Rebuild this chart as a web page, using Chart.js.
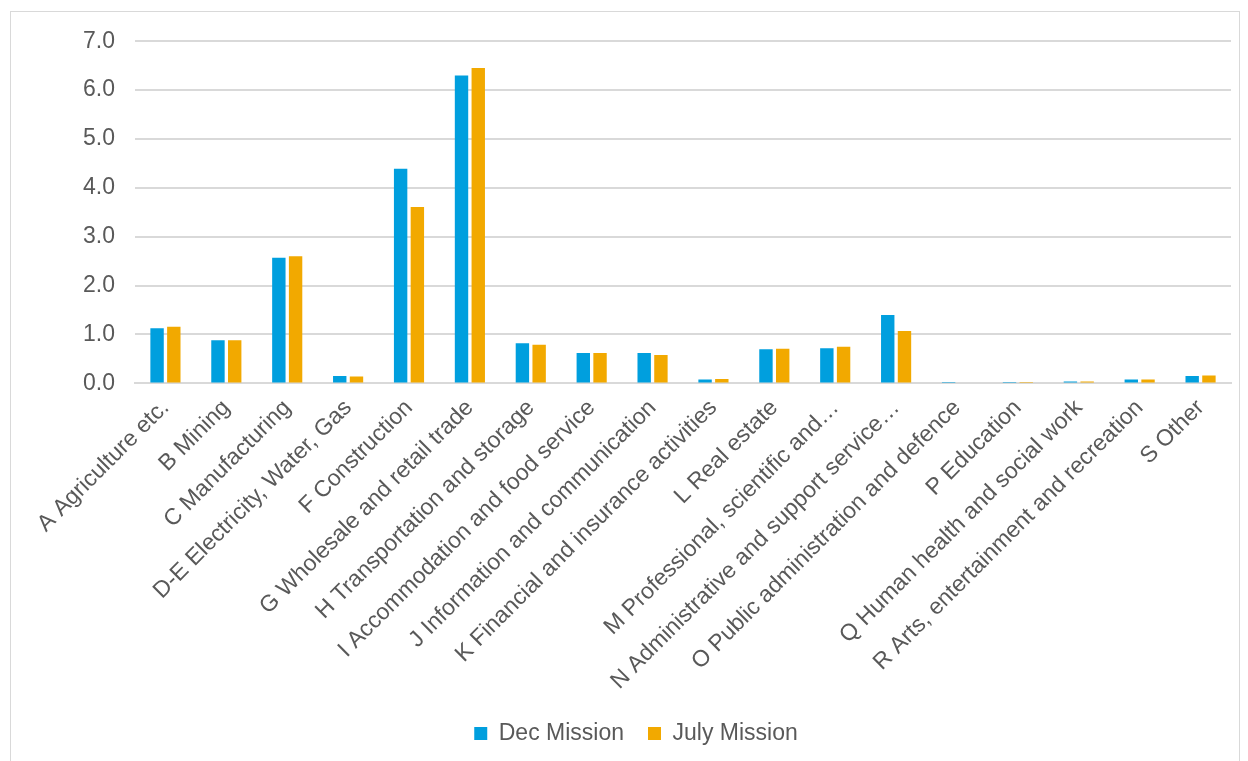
<!DOCTYPE html>
<html>
<head>
<meta charset="utf-8">
<script src="https://cdn.jsdelivr.net/npm/chart.js@4"></script>
<style>
  body { margin: 0; background: #fff; overflow: hidden; }
  #wrap {
    position: absolute; left: 10px; top: 11px;
    width: 1230px; height: 753px;
    border: 1px solid #d9d9d9; box-sizing: border-box;
  }
</style>
</head>
<body>
<div id="wrap"><canvas id="sectorChart"></canvas></div>
<script>
// Sectors
const categories = [
    'A Agriculture etc.', 'B Mining', 'C Manufacturing', 'D-E Electricity, Water, Gas',
    'F Construction', 'G Wholesale and retail trade', 'H Transportation and storage',
    'I Accommodation and food service', 'J Information and communication',
    'K Financial and insurance activities', 'L Real estate',
    'M Professional, scientific and…', 'N Administrative and support service…',
    'O Public administration and defence', 'P Education',
    'Q Human health and social work', 'R Arts, entertainment and recreation', 'S Other'
];
const decMission = [1.13, 0.88, 2.57, 0.15, 4.39, 6.30, 0.82, 0.62, 0.62, 0.08, 0.70, 0.72, 1.40, 0.01, 0.01, 0.04, 0.08, 0.15];
const julyMission = [1.16, 0.88, 2.60, 0.14, 3.61, 6.45, 0.79, 0.62, 0.58, 0.09, 0.71, 0.75, 1.07, 0.00, 0.01, 0.04, 0.08, 0.16];

const textColor = '#595959';
const fontFamily = '"Liberation Sans", Arial, sans-serif';

const ctx = document.getElementById('sectorChart').getContext('2d');
new Chart(ctx, {
    type: 'bar',
    data: {
        labels: categories,
        datasets: [{
            label: 'Dec Mission',
            data: decMission,
            backgroundColor: '#009fde',
            barPercentage: 0.8,
            categoryPercentage: 0.55
        }, {
            label: 'July Mission',
            data: julyMission,
            backgroundColor: '#f2a900',
            barPercentage: 0.8,
            categoryPercentage: 0.55
        }]
    },
    options: {
        responsive: true,
        maintainAspectRatio: false,
        animation: false,
        layout: {
            padding: { top: 8, left: 30, right: 8, bottom: 8 }
        },
        plugins: {
            legend: {
                position: 'bottom',
                labels: {
                    boxWidth: 13,
                    boxHeight: 13,
                    padding: 24,
                    color: textColor,
                    font: { family: fontFamily, size: 23 }
                }
            },
            tooltip: { enabled: false }
        },
        scales: {
            y: {
                min: 0,
                max: 7,
                afterFit: scale => { scale.width = 94; },
                ticks: {
                    stepSize: 1,
                    padding: 20,
                    color: textColor,
                    font: { family: fontFamily, size: 23, lineHeight: 0.8 },
                    callback: v => v.toFixed(1)
                },
                grid: {
                    color: '#d9d9d9',
                    lineWidth: 2,
                    drawTicks: false
                },
                border: { display: false }
            },
            x: {
                grid: { display: false },
                border: { color: '#d9d9d9', width: 2 },
                ticks: {
                    minRotation: 45,
                    maxRotation: 45,
                    autoSkip: false,
                    color: textColor,
                    font: { family: fontFamily, size: 23 }
                }
            }
        }
    }
});
</script>
</body>
</html>
